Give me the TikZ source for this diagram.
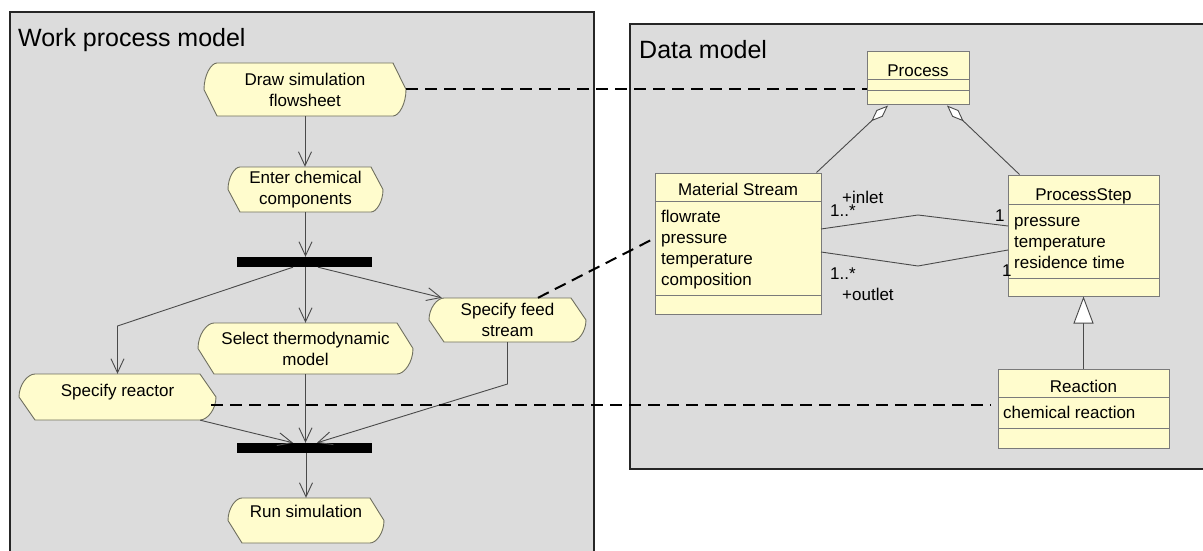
\documentclass[tikz,border=0pt]{standalone}
\usepackage{fontspec}
\setmainfont{Liberation Sans}
\usetikzlibrary{arrows.meta}

\definecolor{panelgray}{HTML}{DCDCDC}
\definecolor{noteyellow}{HTML}{FFFCCD}
\definecolor{shapeedge}{HTML}{6F6F5F}
\definecolor{boxedge}{HTML}{7A7A7A}
\definecolor{flowline}{HTML}{4A4A4A}

\tikzset{
  panel/.style={draw=black!85, line width=1.4pt, fill=panelgray},
  paneltitle/.style={font=\fontsize{25}{29}\selectfont, anchor=base west, inner sep=0pt},
  txt/.style={font=\fontsize{17}{21}\selectfont, inner sep=0pt},
  actline/.style={draw=shapeedge, fill=noteyellow, line width=0.9pt, line join=round},
  actbox/.style={txt, rectangle, align=center},
  syncbar/.style={fill=black, draw=none, minimum width=135pt, minimum height=10pt, inner sep=0pt},
  flow/.style={draw=flowline, line width=0.9pt, -{Straight Barb[length=14pt,width=13pt]}},
  classrect/.style={draw=boxedge, fill=noteyellow, line width=1pt, inner sep=0pt},
  divider/.style={draw=boxedge, line width=1pt},
  assoc/.style={draw=flowline, line width=0.9pt},
  trace/.style={draw=black, line width=2pt, dash pattern=on 12pt off 7pt},
}

% activity: name, cx, cy, width, height, chamfer, text, extra node options
% upper-left and lower-right ends are rounded, the other two are straight
\newcommand\actnode[8]{%
  \pgfmathsetmacro\actw{#4/2}%
  \pgfmathsetmacro\acth{#5/2}%
  \pgfmathsetmacro\actc{#4/2-#6}%
  \pgfmathsetmacro\actk{#4/2-0.55*#6}%
  \pgfmathsetmacro\actv{0.55*#5/2}%
  \draw[actline, shift={(#2,#3)}] (-\actc,-\acth) -- (\actc,-\acth) -- (\actw,0)
      .. controls (\actw,\actv) and (\actk,\acth) .. (\actc,\acth)
      -- (-\actc,\acth) -- (-\actw,0)
      .. controls (-\actw,-\actv) and (-\actk,-\acth) .. (-\actc,-\acth) -- cycle;
  \node[actbox, minimum width=#4pt, minimum height=#5pt, #8] (#1) at (#2,#3) {#7};}

% class box: name, x1, y1, x2, y2, first divider, second divider
\newcommand\umlclass[7]{%
  \pgfmathsetmacro\umlw{#4-#2}%
  \pgfmathsetmacro\umlh{#5-#3}%
  \node[classrect, minimum width=\umlw pt, minimum height=\umlh pt] (#1)
      at ({(#2+#4)/2},{(#3+#5)/2}) {};
  \draw[divider] (#2,#6) -- (#4,#6) (#2,#7) -- (#4,#7);}

\begin{document}
\begin{tikzpicture}[x=1pt, y=-1pt]
\useasboundingbox (0,0) rectangle (1203,551);
\clip (0,0) rectangle (1203,551);

% panels
\draw[panel] (10,12) rectangle (594,600);
\draw[panel] (630,24) rectangle (1260,469);
\node[paneltitle] (wpmtitle) at (18,47) {Work process model};
\node[paneltitle] (dmtitle) at (639,59) {Data model};

% activities
\actnode{drawfs}{305}{89.5}{202}{53}{13}{Draw simulation\\flowsheet}{}
\actnode{enter}{305.5}{189.5}{155}{45}{12}{Enter chemical\\components}{}
\actnode{select}{305.5}{348.5}{215}{51}{16}{Select thermodynamic\\model}{}
\actnode{reactor}{117.5}{397}{197}{46}{16}{Specify reactor}{text height=13pt, text depth=15pt}
\actnode{feed}{507.5}{320}{157}{44}{15}{Specify feed\\stream}{}
\actnode{run}{306}{520.5}{156}{45}{14}{Run simulation}{text height=13pt, text depth=20pt}

% fork and join bars
\node[syncbar] (fork) at (304.5,262) {};
\node[syncbar] (join) at (304.5,448) {};

% control flow
\coordinate (rbend) at (117.5,326);
\coordinate (fbend) at (507.5,384);
\draw[flow] (drawfs.south) -- (enter.north -| drawfs.south);
\draw[flow] (enter.south) -- (enter.south |- fork.north);
\draw[flow] (select.north |- fork.south) -- (select.north);
\draw[flow] ([xshift=-11.5pt]fork.south) -- (rbend) -- (reactor.north);
\draw[flow] ([xshift=13.5pt]fork.south) -- ([xshift=13pt]feed.north west);
\draw[flow] (select.south) -- (select.south |- join.north);
\draw[flow] ([xshift=-16pt]reactor.south east) -- ([xshift=-11.5pt]join.north);
\draw[flow] (feed.south) -- (fbend) -- ([xshift=12.5pt]join.north);
\draw[flow] (run.north |- join.south) -- (run.north);

% classes
\umlclass{process}{867}{52}{969}{105}{80}{91}
\umlclass{mstream}{655}{173}{821}{314}{201}{295}
\umlclass{pstep}{1008}{175}{1159}{296}{204}{278}
\umlclass{reaction}{998}{369}{1169}{448}{397}{428}

\node[txt, anchor=base] (processname) at (918,77) {Process};
\node[txt, anchor=base] (msname) at (738,195) {Material Stream};
\node[txt, anchor=base west] (msa1) at (661,222) {flowrate};
\node[txt, anchor=base west] (msa2) at (661,243) {pressure};
\node[txt, anchor=base west] (msa3) at (661,264) {temperature};
\node[txt, anchor=base west] (msa4) at (661,285) {composition};
\node[txt, anchor=base] (psname) at (1083.5,200) {ProcessStep};
\node[txt, anchor=base west] (psa1) at (1014,226) {pressure};
\node[txt, anchor=base west] (psa2) at (1014,247) {temperature};
\node[txt, anchor=base west] (psa3) at (1014,268) {residence time};
\node[txt, anchor=base] (rxname) at (1083.5,392) {Reaction};
\node[txt, anchor=base west] (rxa1) at (1003,418) {chemical reaction};

% aggregations
\draw[assoc, {Diamond[fill=white, length=23pt, width=9pt]}-]
  ([xshift=-30pt]process.south) -- ([xshift=-5pt]mstream.north east);
\draw[assoc, {Diamond[fill=white, length=23pt, width=9pt]}-]
  ([xshift=29pt]process.south) -- ([xshift=12pt]pstep.north west);

% generalization
\draw[assoc, -{Triangle[fill=white, length=27pt, width=20pt]}] (reaction.north) -- (pstep.south);

% inlet / outlet associations
\coordinate (msin) at (821,229);
\coordinate (inmid) at (918,215);
\coordinate (psin) at (1008,226);
\coordinate (msout) at (821,252);
\coordinate (outmid) at (918,266);
\coordinate (psout) at (1008,250);
\draw[assoc] (msin) -- (inmid) -- (psin);
\draw[assoc] (msout) -- (outmid) -- (psout);
\node[txt, anchor=west] (inrole) at (842,197) {+inlet};
\node[txt, anchor=west] (inmult) at (830,211) {1..*};
\node[txt, anchor=west] (inone) at (995,216) {1};
\node[txt, anchor=west] (outmult) at (830,274) {1..*};
\node[txt, anchor=west] (outrole) at (842,294) {+outlet};
\node[txt, anchor=west] (outone) at (1002,271) {1};

% traces between activities and data
\coordinate (mspress) at (655,238);
\coordinate (rdstart) at (211,405);
\coordinate (rdend) at (991,405);
\draw[trace] (drawfs.east) -- (drawfs.east -| process.west);
\draw[trace] ([xshift=30.5pt]feed.north) -- (mspress);
\draw[trace] (rdstart) -- (rdend);
\end{tikzpicture}
\end{document}
